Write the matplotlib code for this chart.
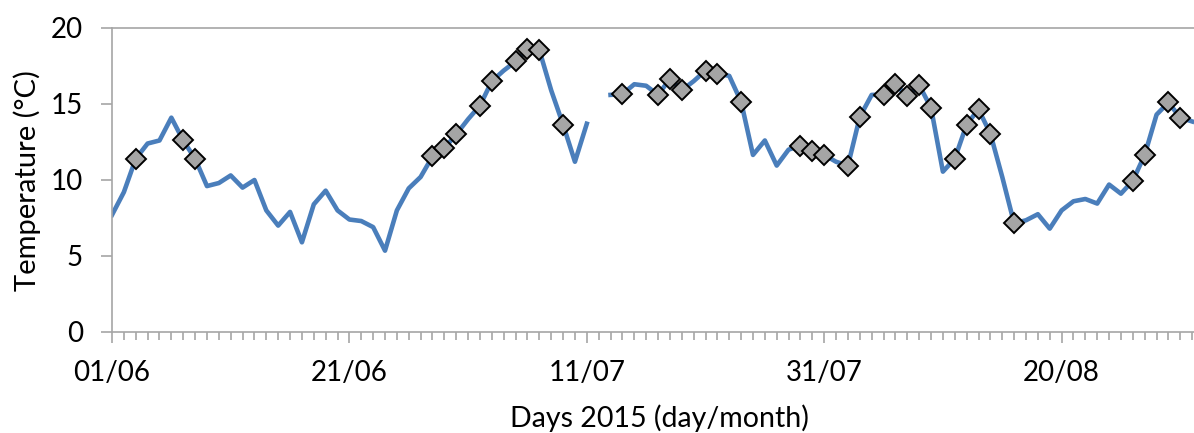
import numpy as np
import pandas as pd
import matplotlib
matplotlib.use("Agg")
import matplotlib.pyplot as plt
import matplotlib.dates as mdates
from matplotlib.ticker import FixedLocator

# daily mean temperature, 01/06/2015 onwards (nan = missing day)
temps = [7.7, 9.2, 11.4, 12.4, 12.6, 14.1, 12.6, 11.4, 9.6, 9.8,
         10.3, 9.5, 10.0, 8.0, 7.0, 7.9, 5.9, 8.4, 9.3, 8.0,
         7.4, 7.3, 6.9, 5.35, 8.0, 9.45, 10.2, 11.55, 12.1, 13.0,
         14.0, 14.9, 16.5, 17.2, 17.8, 18.6, 18.55, 15.9, 13.65, 11.2,
         13.7, np.nan, 15.6, 15.65, 16.3, 16.2, 15.6, 16.65, 15.9, 16.5,
         17.2, 17.0, 16.85, 15.15, 11.65, 12.6, 10.95, 12.0, 12.25, 11.9,
         11.65, 11.2, 10.95, 14.15, 15.6, 15.6, 16.3, 15.5, 16.25, 14.75,
         10.55, 11.4, 13.65, 14.65, 13.05, 10.2, 7.15, 7.35, 7.75, 6.8,
         8.0, 8.6, 8.75, 8.45, 9.7, 9.1, 9.95, 11.65, 14.3, 15.1,
         14.1, 13.85]

# highlighted days (dd/mm)
marked_days = ["03/06", "07/06", "08/06", "28/06", "29/06", "30/06", "02/07",
               "03/07", "05/07", "06/07", "07/07", "09/07", "14/07", "17/07",
               "18/07", "19/07", "21/07", "22/07", "24/07", "29/07", "30/07",
               "31/07", "02/08", "03/08", "05/08", "06/08", "07/08", "08/08",
               "09/08", "11/08", "12/08", "13/08", "14/08", "16/08", "26/08",
               "27/08", "29/08", "30/08"]

tick_labels = ["01/06", "21/06", "11/07", "31/07", "20/08"]

dates = pd.date_range("2015-06-01", periods=len(temps), freq="D")
series = pd.Series(temps, index=dates)
mark_idx = pd.to_datetime([d + "/2015" for d in marked_days], format="%d/%m/%Y")

plt.rcParams["font.family"] = ["Lato", "DejaVu Sans"]
axis_grey = "#a6a6a6"

fig = plt.figure(figsize=(11.94, 4.33), dpi=100)
ax = fig.add_axes([112 / 1194, 1 - 332 / 433, 1 - 112 / 1194, 304 / 433])

ax.plot(series.index, series.values, color="#4a7ebb", lw=3.3, zorder=2)
ax.plot(mark_idx, series[mark_idx].values, ls="none", marker="D", ms=10,
        mfc="#a5a5a5", mec="black", mew=1.4, zorder=3)

x0 = mdates.date2num(dates[0])
ax.set_xlim(x0, x0 + (1194 - 112) / 11.87)
ax.set_ylim(0, 20)
ax.set_yticks([0, 5, 10, 15, 20])

major = pd.to_datetime([t + "/2015" for t in tick_labels], format="%d/%m/%Y")
ax.xaxis.set_major_locator(FixedLocator(mdates.date2num(major)))
ax.xaxis.set_minor_locator(FixedLocator(mdates.date2num(dates)))
ax.set_xticklabels(tick_labels)

for side in ["left", "bottom", "top"]:
    ax.spines[side].set_color(axis_grey)
    ax.spines[side].set_linewidth(1.2)
ax.spines["right"].set_visible(False)

ax.tick_params(axis="x", which="major", length=8, width=1.2, color=axis_grey,
               labelsize=20, pad=12)
ax.tick_params(axis="x", which="minor", length=6, width=1.2, color=axis_grey)
ax.tick_params(axis="y", which="major", length=8, width=1.2, color=axis_grey,
               labelsize=20, pad=13)

fig.text(27 / 1194, 1 - 181 / 433, "Temperature (°C)", fontsize=21,
         rotation=90, ha="center", va="center")
fig.text(659 / 1194, 1 - 427 / 433, "Days 2015 (day/month)", fontsize=20.5,
         ha="center", va="baseline")

fig.savefig("out.png", dpi=100)
